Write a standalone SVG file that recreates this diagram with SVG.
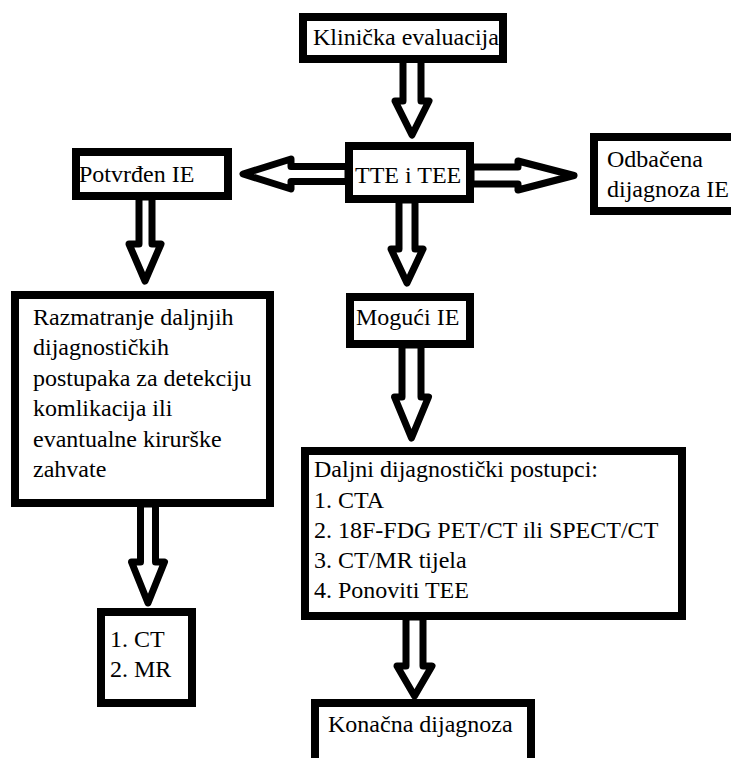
<svg xmlns="http://www.w3.org/2000/svg" width="731" height="758" viewBox="0 0 731 758">
<style>
.box{fill:#fff;stroke:#000;stroke-width:8}
.arr{fill:#fff;stroke:#000;stroke-width:7;stroke-linejoin:round}
.t{font-family:'Liberation Serif','Times New Roman',Times,'DejaVu Serif',serif;font-size:24px;fill:#000}
</style>
<rect width="731" height="758" fill="#fff"/>
<g id="connectors">
<path class="arr" d="M403,58 L403,101 L395,101 L412,135 L429,101 L421,101 L421,58 Z"/>
<path class="arr" d="M399,200 L399,249 L391,249 L407,283 L423,249 L415,249 L415,200 Z"/>
<path class="arr" d="M402,345 L402,397 L394.5,397 L411.5,438 L428.5,397 L421,397 L421,345 Z"/>
<path class="arr" d="M406,617 L406,666 L397,666 L414.5,696 L432,666 L423,666 L423,617 Z"/>
<path class="arr" d="M139,197 L139,244 L129,244 L145,281 L161,244 L152,244 L152,197 Z"/>
<path class="arr" d="M140.5,504 L140.5,562 L131.5,562 L148,603 L164.5,562 L155.5,562 L155.5,504 Z"/>
<path class="arr" d="M348,166.5 L291,166.5 L291,159 L243,174 L291,189 L291,181.5 L348,181.5 Z"/>
<path class="arr" d="M471,167 L518,167 L518,161 L574,175.5 L518,190 L518,184 L471,184 Z"/>
</g>
<g id="n-klinicka">
<rect class="box" x="303" y="17" width="200" height="42"/>
<text class="t" x="313" y="45">Klinička evaluacija</text>
</g>
<g id="n-tte">
<rect class="box" x="349" y="146" width="121" height="53"/>
<text class="t" x="355" y="183">TTE i TEE</text>
</g>
<g id="n-potvrden">
<rect class="box" x="76" y="152" width="152" height="44"/>
<text class="t" x="79" y="182">Potvrđen IE</text>
</g>
<g id="n-odbacena">
<rect class="box" x="594" y="137" width="150" height="74"/>
<text class="t" x="607" y="167">Odbačena</text>
<text class="t" x="607" y="197">dijagnoza IE</text>
</g>
<g id="n-moguci">
<rect class="box" x="350" y="297" width="120" height="47"/>
<text class="t" x="356" y="325">Mogući IE</text>
</g>
<g id="n-razmatranje">
<rect class="box" x="15" y="295" width="255" height="208"/>
<text class="t" x="33" y="325">Razmatranje daljnjih</text>
<text class="t" x="33" y="355.4">dijagnostičkih</text>
<text class="t" x="33" y="385.8">postupaka za detekciju</text>
<text class="t" x="33" y="416.2">komlikacija ili</text>
<text class="t" x="33" y="446.6">evantualne kirurške</text>
<text class="t" x="33" y="477">zahvate</text>
</g>
<g id="n-daljni">
<rect class="box" x="305" y="451" width="377" height="165"/>
<text class="t" x="314" y="477">Daljni dijagnostički postupci:</text>
<text class="t" x="314" y="508">1. CTA</text>
<text class="t" x="314" y="538">2. 18F-FDG PET/CT ili SPECT/CT</text>
<text class="t" x="314" y="568">3. CT/MR tijela</text>
<text class="t" x="314" y="598">4. Ponoviti TEE</text>
</g>
<g id="n-ctmr">
<rect class="box" x="101" y="612" width="91" height="91"/>
<text class="t" x="110" y="647">1. CT</text>
<text class="t" x="110" y="677">2. MR</text>
</g>
<g id="n-konacna">
<rect class="box" x="315" y="703" width="216" height="80"/>
<text class="t" x="328" y="732">Konačna dijagnoza</text>
</g>
</svg>
